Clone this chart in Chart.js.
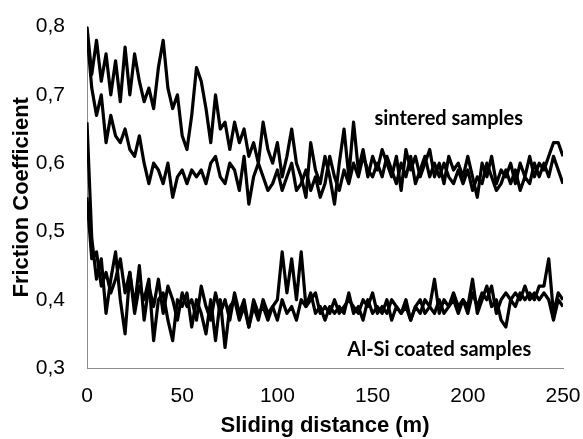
<!DOCTYPE html>
<html>
<head>
<meta charset="utf-8">
<title>Friction Coefficient</title>
<script src="https://cdn.jsdelivr.net/npm/chart.js@4/dist/chart.umd.min.js"></script>
<style>
    html, body { margin: 0; padding: 0; background: #fff; }
    #wrap { width: 583px; height: 439px; }
</style>
</head>
<body>
<div id="wrap"><canvas id="frictionChart" width="583" height="439"></canvas></div>
<script>
// Khoang cach truot (m)
const distance = [0, 2.5, 5, 7.5, 10, 12.5, 15, 17.5, 20, 22.5, 25, 27.5, 30, 32.5, 35, 37.5, 40, 42.5, 45, 47.5,
    50, 52.5, 55, 57.5, 60, 62.5, 65, 67.5, 70, 72.5, 75, 77.5, 80, 82.5, 85, 87.5, 90, 92.5, 95, 97.5,
    100, 102.5, 105, 107.5, 110, 112.5, 115, 117.5, 120, 122.5, 125, 127.5, 130, 132.5, 135, 137.5, 140, 142.5, 145, 147.5,
    150, 152.5, 155, 157.5, 160, 162.5, 165, 167.5, 170, 172.5, 175, 177.5, 180, 182.5, 185, 187.5, 190, 192.5, 195, 197.5,
    200, 202.5, 205, 207.5, 210, 212.5, 215, 217.5, 220, 222.5, 225, 227.5, 230, 232.5, 235, 237.5, 240, 242.5, 245, 247.5, 250];

// sintered samples
const sintered1 = [0.80, 0.73, 0.78, 0.72, 0.76, 0.70, 0.75, 0.69, 0.77, 0.70, 0.76, 0.72, 0.69, 0.71, 0.68, 0.74, 0.78, 0.71, 0.68, 0.70,
    0.64, 0.62, 0.67, 0.74, 0.72, 0.68, 0.63, 0.70, 0.65, 0.66, 0.62, 0.66, 0.63, 0.65, 0.61, 0.63, 0.60, 0.66, 0.62, 0.60,
    0.63, 0.58, 0.61, 0.65, 0.60, 0.58, 0.55, 0.63, 0.59, 0.57, 0.61, 0.58, 0.54, 0.60, 0.65, 0.58, 0.66, 0.59, 0.62, 0.58,
    0.61, 0.59, 0.62, 0.60, 0.58, 0.61, 0.56, 0.62, 0.59, 0.61, 0.58, 0.60, 0.62, 0.58, 0.60, 0.57, 0.61, 0.59, 0.60, 0.58,
    0.61, 0.58, 0.55, 0.60, 0.58, 0.61, 0.57, 0.59, 0.58, 0.60, 0.57, 0.60, 0.58, 0.61, 0.58, 0.60, 0.59, 0.61, 0.63, 0.63, 0.61];
const sintered2 = [0.79, 0.71, 0.67, 0.70, 0.63, 0.67, 0.64, 0.63, 0.65, 0.62, 0.61, 0.64, 0.60, 0.57, 0.60, 0.59, 0.57, 0.60, 0.55, 0.58,
    0.59, 0.57, 0.59, 0.58, 0.59, 0.57, 0.60, 0.61, 0.58, 0.57, 0.60, 0.59, 0.56, 0.61, 0.54, 0.58, 0.60, 0.58, 0.56, 0.57,
    0.59, 0.56, 0.58, 0.60, 0.56, 0.57, 0.59, 0.56, 0.58, 0.55, 0.57, 0.61, 0.58, 0.56, 0.59, 0.57, 0.60, 0.58, 0.61, 0.59,
    0.58, 0.60, 0.58, 0.61, 0.59, 0.57, 0.60, 0.58, 0.61, 0.57, 0.59, 0.61, 0.58, 0.60, 0.58, 0.60, 0.58, 0.57, 0.59, 0.57,
    0.59, 0.56, 0.58, 0.57, 0.60, 0.58, 0.56, 0.57, 0.59, 0.57, 0.59, 0.56, 0.58, 0.57, 0.60, 0.58, 0.60, 0.58, 0.61, 0.59, 0.57];

// Al-Si coated samples
const coated1 = [0.66, 0.49, 0.43, 0.46, 0.38, 0.43, 0.47, 0.40, 0.35, 0.44, 0.38, 0.42, 0.40, 0.43, 0.34, 0.40, 0.41, 0.37, 0.34, 0.40,
    0.39, 0.41, 0.36, 0.40, 0.38, 0.35, 0.40, 0.34, 0.40, 0.33, 0.39, 0.40, 0.37, 0.39, 0.36, 0.39, 0.37, 0.40, 0.38, 0.39,
    0.37, 0.40, 0.38, 0.39, 0.37, 0.40, 0.39, 0.41, 0.38, 0.39, 0.37, 0.39, 0.38, 0.39, 0.38, 0.41, 0.38, 0.39, 0.37, 0.40,
    0.38, 0.39, 0.38, 0.40, 0.37, 0.39, 0.38, 0.40, 0.37, 0.39, 0.40, 0.38, 0.39, 0.43, 0.38, 0.40, 0.39, 0.40, 0.38, 0.40,
    0.39, 0.43, 0.38, 0.40, 0.42, 0.39, 0.40, 0.37, 0.36, 0.40, 0.39, 0.41, 0.40, 0.41, 0.40, 0.42, 0.42, 0.46, 0.38, 0.41, 0.40];
const coated2 = [0.55, 0.46, 0.47, 0.42, 0.44, 0.41, 0.43, 0.46, 0.41, 0.44, 0.39, 0.45, 0.37, 0.42, 0.39, 0.43, 0.38, 0.42, 0.40, 0.37,
    0.41, 0.39, 0.40, 0.37, 0.42, 0.39, 0.37, 0.41, 0.38, 0.40, 0.37, 0.41, 0.38, 0.40, 0.36, 0.40, 0.38, 0.39, 0.37, 0.39,
    0.40, 0.47, 0.41, 0.46, 0.40, 0.47, 0.39, 0.40, 0.41, 0.38, 0.39, 0.38, 0.40, 0.38, 0.39, 0.40, 0.39, 0.38, 0.40, 0.39,
    0.41, 0.38, 0.39, 0.38, 0.40, 0.39, 0.38, 0.39, 0.37, 0.39, 0.38, 0.40, 0.39, 0.38, 0.40, 0.38, 0.39, 0.41, 0.39, 0.40,
    0.38, 0.41, 0.39, 0.41, 0.40, 0.42, 0.38, 0.40, 0.41, 0.40, 0.41, 0.40, 0.42, 0.40, 0.41, 0.40, 0.41, 0.40, 0.37, 0.40, 0.39];

const yTicks = [0.3, 0.4, 0.5, 0.6, 0.7, 0.8];

function toPoints(values) {
    return values.map((v, i) => ({ x: distance[i], y: v }));
}

function lineSet(values) {
    return {
        data: toPoints(values),
        borderColor: '#000',
        borderWidth: 3.2,
        borderJoinStyle: 'round',
        pointRadius: 0,
        tension: 0,
        fill: false
    };
}

// Chu thich tren bieu do
const labelPlugin = {
    id: 'seriesLabels',
    afterDatasetsDraw(chart) {
        const c = chart.ctx;
        const xs = chart.scales.x;
        const ys = chart.scales.y;
        c.save();
        c.fillStyle = '#000';
        c.font = 'bold 20px Lato, "Open Sans", sans-serif';
        c.textAlign = 'center';
        c.textBaseline = 'middle';
        c.fillText('sintered samples', xs.getPixelForValue(190), ys.getPixelForValue(0.666));
        c.fillText('Al-Si coated samples', xs.getPixelForValue(185), ys.getPixelForValue(0.327));
        c.restore();
    }
};

const ctx = document.getElementById('frictionChart').getContext('2d');

new Chart(ctx, {
    type: 'line',
    data: {
        datasets: [lineSet(sintered1), lineSet(sintered2), lineSet(coated1), lineSet(coated2)]
    },
    options: {
        responsive: false,
        animation: false,
        layout: {
            padding: { left: 0, right: 0, top: 13, bottom: 0 }
        },
        plugins: {
            legend: { display: false },
            tooltip: { enabled: false }
        },
        scales: {
            x: {
                type: 'linear',
                min: 0,
                max: 250,
                grid: { display: false },
                border: { display: true, color: '#8c8c8c', width: 1 },
                ticks: {
                    stepSize: 50,
                    padding: 8,
                    color: '#000',
                    font: { family: '"Liberation Sans", Arial, sans-serif', size: 21 }
                },
                title: {
                    display: true,
                    text: 'Sliding distance (m)',
                    color: '#000',
                    padding: { top: 0, bottom: 0 },
                    font: { family: '"Liberation Sans", Arial, sans-serif', size: 22, weight: 'bold' }
                },
                afterFit(scale) {
                    scale.height = 71;
                    scale.paddingRight = 20;
                }
            },
            y: {
                min: 0.3,
                max: 0.8,
                grid: { display: false },
                border: { display: true, color: '#8c8c8c', width: 1 },
                afterBuildTicks(scale) {
                    scale.ticks = yTicks.map(v => ({ value: v }));
                },
                ticks: {
                    padding: 14,
                    color: '#000',
                    font: { family: '"Liberation Sans", Arial, sans-serif', size: 21 },
                    callback: v => v.toFixed(1).replace('.', ',')
                },
                title: {
                    display: true,
                    text: 'Friction Coefficient',
                    color: '#000',
                    padding: { top: 9, bottom: 2 },
                    font: { family: '"Liberation Sans", Arial, sans-serif', size: 22, weight: 'bold' }
                },
                afterFit(scale) { scale.width = 87; }
            }
        }
    },
    plugins: [labelPlugin]
});
</script>
</body>
</html>
